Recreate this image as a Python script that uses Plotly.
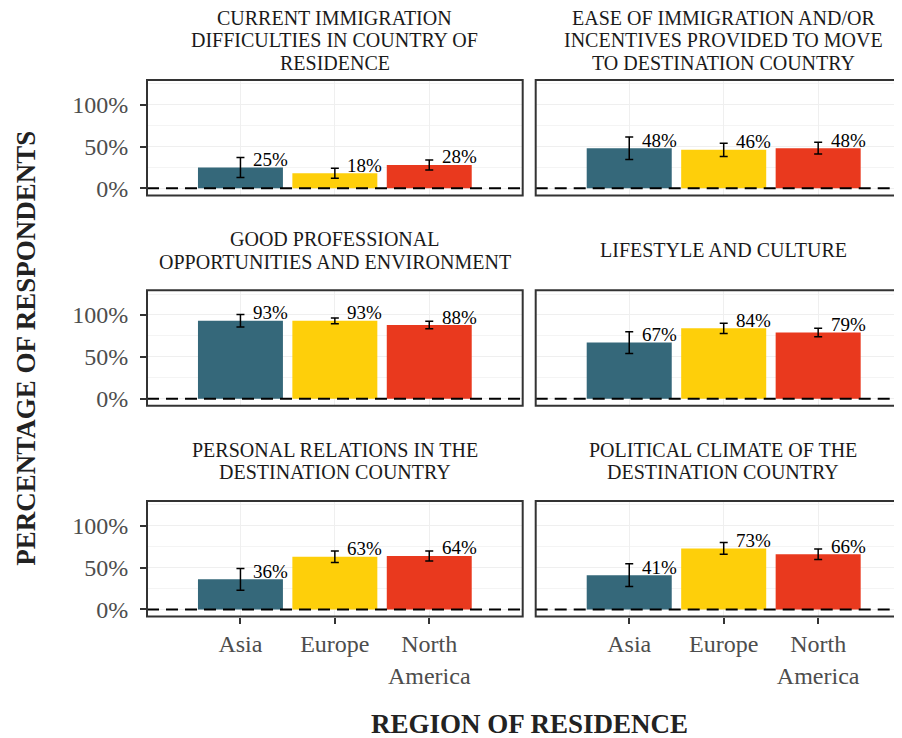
import plotly.graph_objects as go

# ---- data ----
regions = ["Asia", "Europe", "North America"]
region_ticks = ["Asia", "Europe", "North<br>America"]

panel_titles = [
    "CURRENT IMMIGRATION\nDIFFICULTIES IN COUNTRY OF\nRESIDENCE",
    "EASE OF IMMIGRATION AND/OR\nINCENTIVES PROVIDED TO MOVE\nTO DESTINATION COUNTRY",
    "GOOD PROFESSIONAL\nOPPORTUNITIES AND ENVIRONMENT",
    "LIFESTYLE AND CULTURE",
    "PERSONAL RELATIONS IN THE\nDESTINATION COUNTRY",
    "POLITICAL CLIMATE OF THE\nDESTINATION COUNTRY",
]

current_difficulties = [25, 18, 28]
current_difficulties_err = [12, 6, 6]
ease_incentives = [48, 46, 48]
ease_incentives_err = [13.5, 8, 7]
professional = [93, 93, 88]
professional_err = [7.5, 3.5, 4.5]
lifestyle = [67, 84, 79]
lifestyle_err = [13, 6, 5]
personal_relations = [36, 63, 64]
personal_relations_err = [13, 7, 6]
political_climate = [41, 73, 66]
political_climate_err = [13.5, 7, 6.3]

values = [current_difficulties, ease_incentives, professional,
          lifestyle, personal_relations, political_climate]
errors = [current_difficulties_err, ease_incentives_err, professional_err,
          lifestyle_err, personal_relations_err, political_climate_err]

colors = ["#35687A", "#FECF0A", "#E9391E"]
serif = "Liberation Serif, Times New Roman, serif"

# ---- geometry (page pixels; the page body adds an 8px margin) ----
OFF = 8
PAGE_W, PAGE_H = 902, 738
W, H = PAGE_W - OFF, PAGE_H - OFF
ML, MT = 147 - OFF, 80 - OFF
MR, MB = 0, PAGE_H - 617.5
PW, PH = W - ML - MR, H - MT - MB


def px_x(x):
    return (x - OFF - ML) / PW


def px_y(y):
    return (H - MB - (y - OFF)) / PH


def clamp(v):
    return max(0.0, min(1.0, v))


col_left = [147, 535.7]
col_right = [522.7, 910.6]
row_top = [80, 290.5, 501.5]
panel_h = 115.5

fig = go.Figure()
shapes = []
annotations = []

for k in range(6):
    row, col = k // 2, k % 2
    sfx = "" if k == 0 else str(k + 1)
    xa, ya = "x" + sfx, "y" + sfx

    fig.add_trace(go.Bar(
        x=regions, y=values[k],
        marker=dict(color=colors, line=dict(width=0)),
        width=0.9,
        error_y=dict(type="data", array=errors[k], color="black",
                     thickness=1.5, width=4),
        xaxis=xa, yaxis=ya, showlegend=False,
    ))

    x0 = clamp(px_x(col_left[col]))
    x1 = clamp(px_x(col_right[col]))
    y1 = clamp(px_y(row_top[row]))
    y0 = clamp(px_y(row_top[row] + panel_h))
    xmax = -0.99 + (PAGE_W - col_left[col]) / 94.47 if col == 1 else 2.99

    fig.update_layout(**{
        "xaxis" + sfx: dict(
            domain=[x0, x1], anchor=ya, range=[-0.99, xmax],
            categoryorder="array", categoryarray=regions,
            tickvals=regions, ticktext=region_ticks,
            showticklabels=(row == 2), ticks="outside" if row == 2 else "",
            ticklen=6, tickwidth=1.5, tickcolor="#333333",
            tickfont=dict(family=serif, size=24, color="#4D4D4D"),
            showgrid=True, gridcolor="#EFEFEF", gridwidth=1,
            showline=False, zeroline=False,
        ),
        "yaxis" + sfx: dict(
            domain=[y0, y1], anchor=xa, range=[-8.4, 129.5],
            tickvals=[0, 50, 100], ticktext=["0%", "50%", "100%"],
            showticklabels=(col == 0), ticks="outside" if col == 0 else "",
            ticklen=6, tickwidth=1.5, tickcolor="#333333",
            ticklabelstandoff=7,
            tickfont=dict(family=serif, size=24, color="#4D4D4D"),
            showgrid=True, gridcolor="#EFEFEF", gridwidth=1,
            minor=dict(dtick=25, tick0=0, showgrid=True,
                       gridcolor="#F4F4F4", gridwidth=0.6),
            showline=False, zeroline=False,
        ),
    })

    # dashed zero line
    shapes.append(dict(type="line", xref=xa + " domain", yref=ya,
                       x0=0, x1=1, y0=0, y1=0, layer="above",
                       line=dict(color="black", width=2, dash="12px,7px")))
    # panel border (right column is cut off by the page edge)
    shapes.append(dict(type="rect", xref="paper", yref="paper",
                       x0=px_x(col_left[col]), x1=px_x(col_right[col]),
                       y0=y0, y1=y1,
                       layer="above", fillcolor="rgba(0,0,0,0)",
                       line=dict(color="#333333", width=2)))

    # value labels
    for i, v in enumerate(values[k]):
        annotations.append(dict(
            x=i + 0.11, y=v, xref=xa, yref=ya, text=f"{v}%",
            showarrow=False, xanchor="left", yanchor="middle", yshift=8,
            font=dict(family=serif, size=19, color="black"),
        ))

    # strip titles
    lines = panel_titles[k].split("\n")
    cx = px_x((col_left[col] + col_right[col]) / 2)
    cy = row_top[row] - 40
    for j, line in enumerate(lines):
        ly = cy + (j - (len(lines) - 1) / 2) * 22.5
        annotations.append(dict(
            x=cx, y=px_y(ly), xref="paper", yref="paper", text=line,
            showarrow=False, xanchor="center", yanchor="middle",
            font=dict(family=serif, size=20, color="#1A1A1A"),
        ))

annotations.append(dict(
    x=px_x(26), y=px_y(349), xref="paper", yref="paper",
    text="<b>PERCENTAGE OF RESPONDENTS</b>", textangle=-90,
    showarrow=False, xanchor="center", yanchor="middle",
    font=dict(family=serif, size=27, color="#222222"),
))
annotations.append(dict(
    x=px_x(529), y=px_y(725), xref="paper", yref="paper",
    text="<b>REGION OF RESIDENCE</b>",
    showarrow=False, xanchor="center", yanchor="middle",
    font=dict(family=serif, size=27, color="#222222"),
))

fig.update_layout(
    width=W, height=H,
    margin=dict(l=ML, r=MR, t=MT, b=MB),
    paper_bgcolor="white", plot_bgcolor="white",
    bargap=0.1,
    shapes=shapes, annotations=annotations,
    showlegend=False,
)

fig.write_html("out.html")
